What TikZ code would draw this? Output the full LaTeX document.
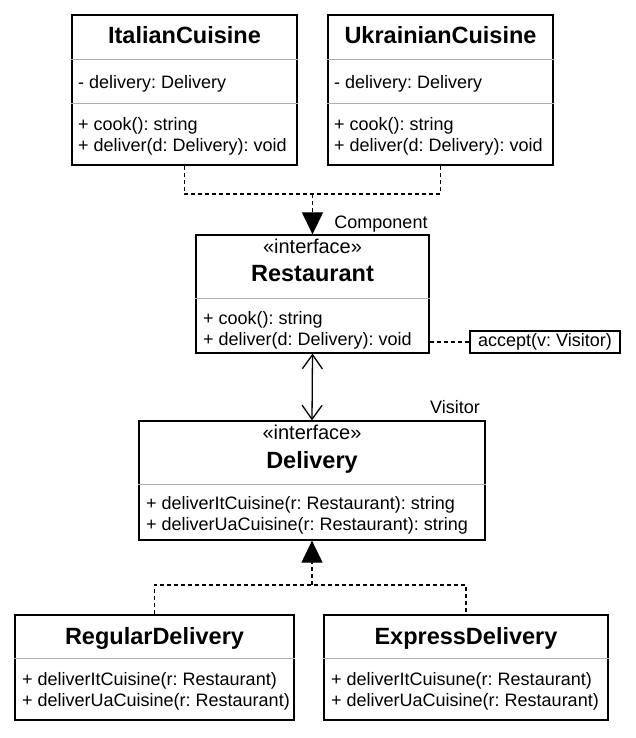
\documentclass[tikz,border=0pt]{standalone}
\usepackage{fontspec}
\setmainfont{Liberation Sans}
\usetikzlibrary{arrows.meta}
\frenchspacing
\tikzset{
    cls/.style={draw, line width=1.3pt, inner sep=0pt},
    sep/.style={gray!60, line width=1pt},
    title/.style={anchor=base, inner sep=0pt, font=\fontsize{23.5}{27}\selectfont\bfseries},
    stereo/.style={anchor=base, inner sep=0pt, font=\fontsize{20}{24}\selectfont},
    member/.style={anchor=base west, inner sep=0pt, font=\fontsize{18}{21.6}\selectfont},
    lbl/.style={anchor=base, inner sep=0pt, font=\fontsize{18}{21.6}\selectfont},
    dep/.style={line width=1.2pt, dash pattern=on 4pt off 3pt},
    realize/.style={dep, -{Triangle[length=22pt,width=21pt]}},
}
\begin{document}
\begin{tikzpicture}[x=1pt, y=-1pt]
            \useasboundingbox (0,0) rectangle (636,738);
            \node[cls, minimum width=225pt, minimum height=150pt] (italian) at (184.5,90) {};
            \node[title] (italianname) at (184.5,44) {ItalianCuisine};
            \draw[sep] (italian.west |- 0,60) -- (italian.east |- 0,60);
            \draw[sep] (italian.west |- 0,104) -- (italian.east |- 0,104);
            \node[member] (italianattr) at (78,89) {- delivery: Delivery};
            \node[member] (italiancook) at (78,131) {+ cook(): string};
            \node[member] (italiandeliver) at (78,152) {+ deliver(d: Delivery): void};
            \node[cls, minimum width=225pt, minimum height=150pt] (ukrainian) at (440.5,90) {};
            \node[title] (ukrainianname) at (440.5,44) {UkrainianCuisine};
            \draw[sep] (ukrainian.west |- 0,60) -- (ukrainian.east |- 0,60);
            \draw[sep] (ukrainian.west |- 0,104) -- (ukrainian.east |- 0,104);
            \node[member] (ukrainianattr) at (334,89) {- delivery: Delivery};
            \node[member] (ukrainiancook) at (334,131) {+ cook(): string};
            \node[member] (ukrainiandeliver) at (334,152) {+ deliver(d: Delivery): void};
            \node[cls, minimum width=233pt, minimum height=118pt] (restaurant) at (312.5,294) {};
            \node[stereo] (restaurantstereo) at (312.5,253.5) {«interface»};
            \node[title] (restaurantname) at (312.5,281.5) {Restaurant};
            \draw[sep] (restaurant.west |- 0,298) -- (restaurant.east |- 0,298);
            \node[member] (restaurantcook) at (203,324) {+ cook(): string};
            \node[member] (restaurantdeliver) at (203,345) {+ deliver(d: Delivery): void};
            \node[draw, line width=1.3pt, minimum width=150pt, minimum height=22pt, inner sep=0pt,
                font=\fontsize{18}{21.6}\selectfont] (accept) at (545,342) {accept(v: Visitor)};
            \draw[dep] (restaurant.east |- accept) -- (accept.west);
            \node[lbl] (component) at (381,228.5) {Component};
            \coordinate (topjoin) at (312.5,194);
            \draw[dep] (italian.south) |- (topjoin) -| (ukrainian.south);
            \draw[realize] (topjoin) -- (restaurant.north);
            \node[cls, minimum width=346pt, minimum height=119pt] (delivery) at (312,480.5) {};
            \node[stereo] (deliverystereo) at (312,439.5) {«interface»};
            \node[title] (deliveryname) at (312,468.5) {Delivery};
            \draw[sep] (delivery.west |- 0,484) -- (delivery.east |- 0,484);
            \node[member] (deliveryit) at (146,509.5) {+ deliverItCuisine(r: Restaurant): string};
            \node[member] (deliveryua) at (146,530.5) {+ deliverUaCuisine(r: Restaurant): string};
            \node[lbl] (visitor) at (455,413.5) {Visitor};
            \draw[line width=1.3pt, {Straight Barb[length=14pt,width=20pt]}-{Straight Barb[length=14pt,width=20pt]}]
                (restaurant.south) -- (delivery.north);
            \node[cls, minimum width=279pt, minimum height=105pt] (regular) at (154.5,667.5) {};
            \node[title] (regularname) at (154.5,644.5) {RegularDelivery};
            \draw[sep] (regular.west |- 0,658) -- (regular.east |- 0,658);
            \node[member] (regularit) at (22,685.5) {+ deliverItCuisine(r: Restaurant)};
            \node[member] (regularua) at (22,706.5) {+ deliverUaCuisine(r: Restaurant)};
            \node[cls, minimum width=284pt, minimum height=105pt] (express) at (466,667.5) {};
            \node[title] (expressname) at (466,644.5) {ExpressDelivery};
            \draw[sep] (express.west |- 0,658) -- (express.east |- 0,658);
            \node[member] (expressit) at (331,685.5) {+ deliverItCuisune(r: Restaurant)};
            \node[member] (expressua) at (331,706.5) {+ deliverUaCuisine(r: Restaurant)};
            \coordinate (bottomjoin) at (312,585);
            \draw[dep] (regular.north) |- (bottomjoin) -| (express.north);
            \draw[realize] (bottomjoin) -- (delivery.south);
        \end{tikzpicture}
\end{document}
